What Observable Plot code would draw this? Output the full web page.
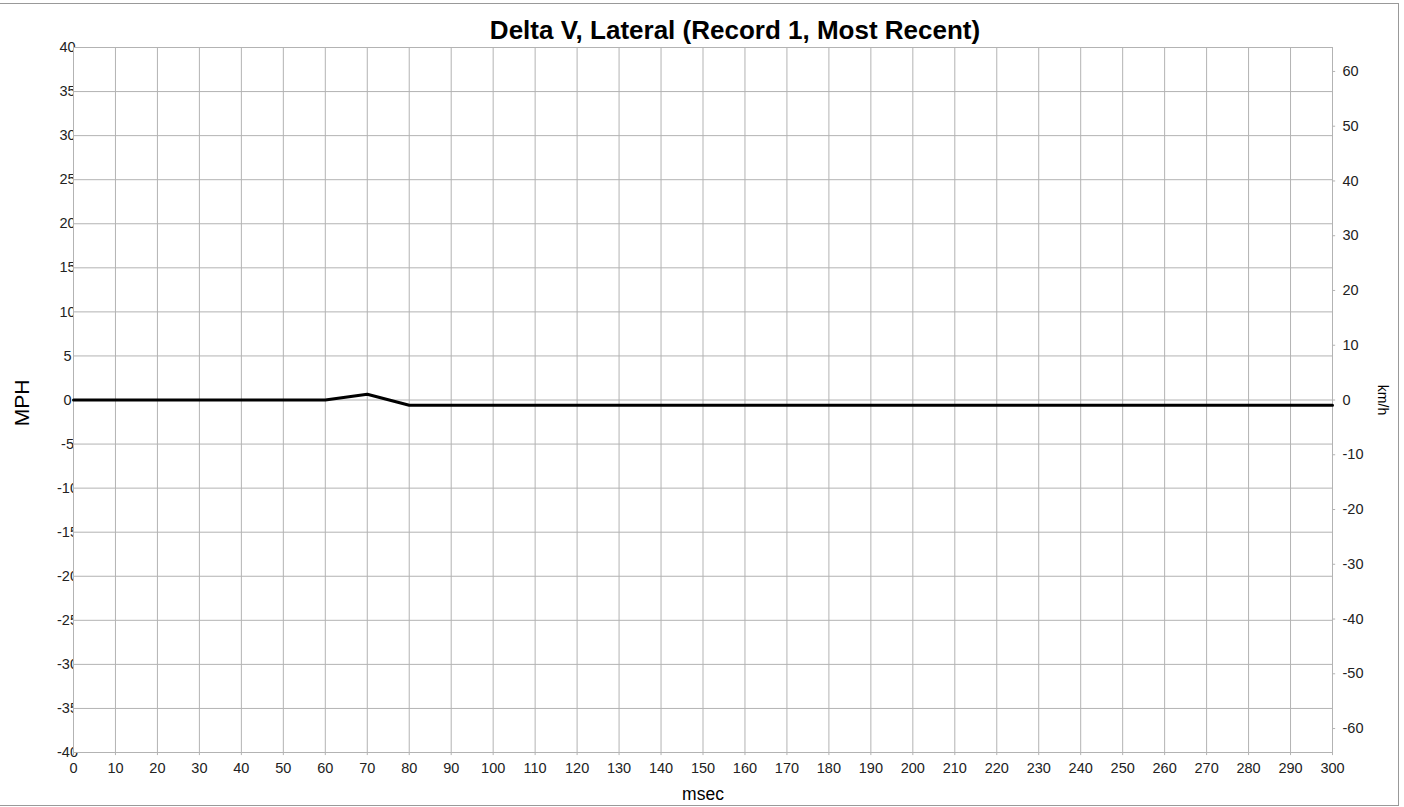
<!DOCTYPE html>
<html>
<head>
<meta charset="utf-8">
<script src="https://cdn.jsdelivr.net/npm/d3@7"></script>
<script src="https://cdn.jsdelivr.net/npm/@observablehq/plot@0.6"></script>
<style>
  html, body { margin: 0; padding: 0; background: #fff; }
  #wrap { position: relative; width: 1404px; height: 807px; overflow: hidden; }
  #border { position: absolute; left: -2px; top: 3px; width: 1401px; height: 803px; border: 1px solid #999; box-sizing: border-box; pointer-events: none; }
  svg { font-family: "Liberation Sans", Arial, sans-serif; }
</style>
</head>
<body>
<div id="wrap"><div id="border"></div></div>
<script>
// Data
const msec = [0,10,20,30,40,50,60,70,80,90,100,110,120,130,140,150,160,170,180,190,200,210,220,230,240,250,260,270,280,290,300];
const mph  = [0,0,0,0,0,0,0,0.65,-0.6,-0.6,-0.6,-0.6,-0.6,-0.6,-0.6,-0.6,-0.6,-0.6,-0.6,-0.6,-0.6,-0.6,-0.6,-0.6,-0.6,-0.6,-0.6,-0.6,-0.6,-0.6,-0.6];
const xTicks = [0,10,20,30,40,50,60,70,80,90,100,110,120,130,140,150,160,170,180,190,200,210,220,230,240,250,260,270,280,290,300];
const mphTicks = [-40,-35,-30,-25,-20,-15,-10,-5,0,5,10,15,20,25,30,35,40];
const kmhTicks = [-60,-50,-40,-30,-20,-10,0,10,20,30,40,50,60];
const KMH_PER_MPH = 1.609344;
const title = "Delta V, Lateral (Record 1, Most Recent)";

const data = msec.map((t, i) => ({t, v: mph[i]}));
const kmh = kmhTicks.map(k => ({k, y: k / KMH_PER_MPH}));

const grid = "#b3b3b3";
const tickFont = 14.5;

const chart = Plot.plot({
  width: 1404,
  height: 807,
  marginLeft: 73,
  marginRight: 72,
  marginTop: 47,
  marginBottom: 55,
  style: {fontFamily: "'Liberation Sans', Arial, sans-serif", background: "white"},
  x: {domain: [0, 300], axis: null},
  y: {domain: [-40, 40], axis: null},
  marks: [
    // left tick labels (partly hidden by plot background, as in the reference)
    Plot.text(mphTicks, {x: () => 0, y: d => d, text: d => String(d), textAnchor: "middle", lineAnchor: "middle", dx: -6, dy: 0, fontSize: tickFont, fill: "#222"}),
    // white plot background covers overflow of left labels
    Plot.frame({fill: "white", stroke: null}),
    // grid
    Plot.ruleX(xTicks, {x: d => d, y1: -40, y2: 40, stroke: grid, strokeWidth: 1}),
    Plot.ruleY(mphTicks, {y: d => d, x1: 0, x2: 300, stroke: grid, strokeWidth: 1}),
    // x ticks extending just below the frame
    Plot.ruleX(xTicks, {x: d => d, y1: -40, y2: -40.35, stroke: grid, clip: false}),
    Plot.frame({stroke: grid, strokeWidth: 1}),
    // right axis ticks (km/h)
    Plot.ruleY(kmh, {y: "y", x1: 300, x2: 300.75, stroke: grid, clip: false}),
    Plot.text(kmh, {x: () => 300, y: "y", text: d => String(d.k), textAnchor: "start", lineAnchor: "middle", dx: 10, dy: 0, fontSize: tickFont, fill: "#222"}),
    // x tick labels
    Plot.text(xTicks, {x: d => d, y: () => -40, text: d => String(d), textAnchor: "middle", lineAnchor: "middle", dy: 16, fontSize: tickFont, fill: "#222"}),
    // data line
    Plot.line(data, {x: "t", y: "v", stroke: "black", strokeWidth: 3, strokeLinejoin: "miter"}),
    // axis titles
    Plot.text([0], {frameAnchor: "left", textAnchor: "middle", lineAnchor: "middle", dx: -51, dy: 3, text: () => "MPH", rotate: -90, fontSize: 21, fill: "#000"}),
    Plot.text([0], {frameAnchor: "right", textAnchor: "middle", lineAnchor: "middle", dx: 50, text: () => "km/h", rotate: 90, fontSize: 14, fill: "#000"}),
    Plot.text([0], {frameAnchor: "bottom", textAnchor: "middle", lineAnchor: "middle", dy: 42, text: () => "msec", fontSize: 17.5, fill: "#000"}),
    Plot.text([0], {frameAnchor: "top", textAnchor: "middle", lineAnchor: "middle", dx: 32, dy: -17, text: () => title, fontSize: 26, fontWeight: "bold", fill: "#000"})
  ]
});
document.getElementById("wrap").prepend(chart);
</script>
</body>
</html>
